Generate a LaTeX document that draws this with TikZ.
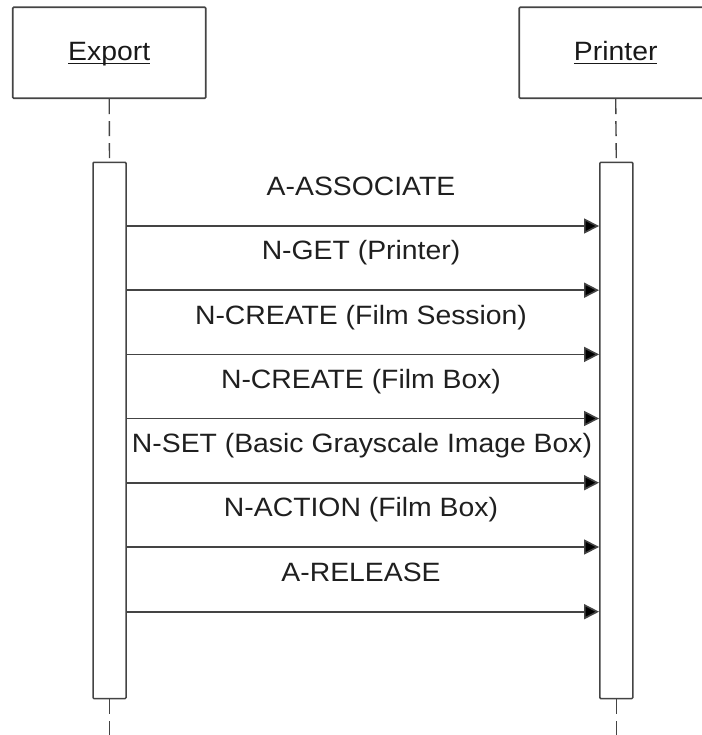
\documentclass[tikz,border=0pt]{standalone}
\usepackage{fontspec}
\setmainfont{Liberation Sans}[FakeStretch=1.07]
\usetikzlibrary{arrows.meta}
\definecolor{ln}{HTML}{444444}
\newcommand\ulhead[1]{\setbox0\hbox{#1}\rlap{\rule[-3.4pt]{\wd0}{1.8pt}}\box0}
\begin{document}
\begin{tikzpicture}[x=1pt,y=-1pt,
  head/.style={draw=ln, line width=1.6pt, minimum width=193pt, minimum height=91pt,
    rounded corners=1pt, inner sep=0pt, text height=20pt, text depth=3.6pt,
    text=black!90, font=\fontsize{26.5}{30}\selectfont},
  act/.style={draw=ln, line width=1.5pt, fill=white, minimum width=33pt,
    minimum height=536.3pt, inner sep=0pt, rounded corners=1pt},
  life/.style={draw=ln, line width=1.4pt, dash pattern=on 15pt off 7pt},
  msg/.style={draw=ln, line width=1.6pt, -{Triangle[length=15pt,width=15pt,fill=black]}},
  lbl/.style={font=\fontsize{26.5}{30}\selectfont, text=black!88, inner sep=0pt, anchor=base}]
\useasboundingbox (0,0) rectangle (701,735);
% headers
\node[head] (E) at (109.2,52.8) {\ulhead{Export}};
\node[head] (P) at (615.7,52.8) {\ulhead{Printer}};
% lifeline ends
\coordinate (eEnd) at (109.5,740);
\coordinate (pEnd) at (616.3,740);
% activation boxes
\node[act] (aE) at (109.5,430.45) {};
\node[act] (aP) at (616.3,430.45) {};
\draw[life] (E.south) -- (aE.north);
\draw[life] (P.south) -- (aP.north);
\draw[life] (aE.south) -- (eEnd);
\draw[life] (aP.south) -- (pEnd);
% message rows
\coordinate (m1) at (0,226);
\coordinate (m2) at (0,290.2);
\coordinate (m3) at (0,354.4);
\coordinate (m4) at (0,418.5);
\coordinate (m5) at (0,482.7);
\coordinate (m6) at (0,547);
\coordinate (m7) at (0,611.7);
\draw[msg] (aE.east |- m1) -- (aP.west |- m1);
\draw[msg] (aE.east |- m2) -- (aP.west |- m2);
\draw[msg] (aE.east |- m3) -- (aP.west |- m3);
\draw[msg] (aE.east |- m4) -- (aP.west |- m4);
\draw[msg] (aE.east |- m5) -- (aP.west |- m5);
\draw[msg] (aE.east |- m6) -- (aP.west |- m6);
\draw[msg] (aE.east |- m7) -- (aP.west |- m7);
% labels (baselines 30.4 above each arrow)
\node[lbl] (l1) at (361,195.6) {A-ASSOCIATE};
\node[lbl] (l2) at (361,259.8) {N-GET (Printer)};
\node[lbl] (l3) at (361,324) {N-CREATE (Film Session)};
\node[lbl] (l4) at (361,388.1) {N-CREATE (Film Box)};
\node[lbl] (l5) at (362,452.3) {N-SET (Basic Grayscale Image Box)};
\node[lbl] (l6) at (361,516.6) {N-ACTION (Film Box)};
\node[lbl] (l7) at (361,581.3) {A-RELEASE};
\end{tikzpicture}
\end{document}
